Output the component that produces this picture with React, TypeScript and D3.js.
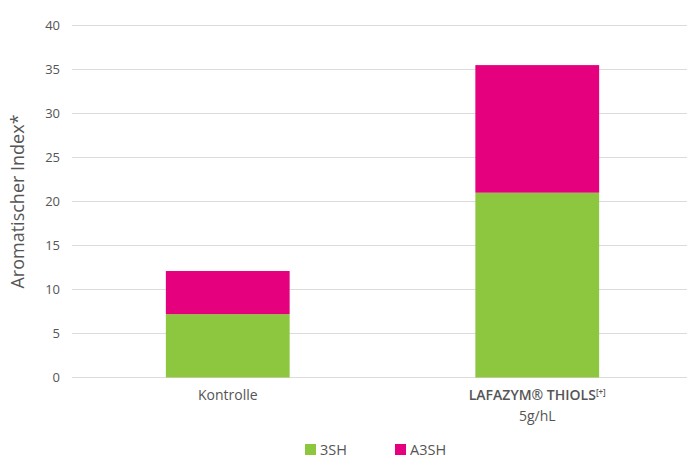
import * as d3 from 'd3';

const categories = ['Kontrolle', 'LAFAZYM® THIOLS'];
const series = ['3SH', 'A3SH'];
const values3SH = [7.2, 21.0];
const valuesA3SH = [4.9, 14.5];
const yTicks = [0, 5, 10, 15, 20, 25, 30, 35, 40];

const colors = ['#8DC63F', '#E5007D'];
const width = 687;
const height = 458;
const font = "'Open Sans', 'Noto Sans', sans-serif";

export default function App() {
  const x = d3
    .scaleBand<string>()
    .domain(categories)
    .range([73, 692])
    .paddingInner(0.6)
    .paddingOuter(0.3);

  const y = d3.scaleLinear().domain([0, 40]).range([377.5, 25.5]);

  const rows = categories.map((c, i) => ({
    category: c,
    '3SH': values3SH[i],
    A3SH: valuesA3SH[i],
  }));
  const stacked = d3.stack<any>().keys(series)(rows);

  return (
    <svg
      width={width}
      height={height}
      style={{ display: 'block', position: 'absolute', left: 0, top: 0 }}
      fontFamily={font}
    >
      <rect width={width} height={height} fill="#fff" />
      {/* gridlines */}
      {yTicks.map((t) => (
        <g key={t}>
          <line x1={72} x2={687} y1={y(t)} y2={y(t)} stroke="#dcdcdc" strokeWidth={1} />
          <text x={60} y={y(t)} dy="0.35em" textAnchor="end" fontSize={13} fill="#555">
            {t}
          </text>
        </g>
      ))}

      {/* bars */}
      {stacked.map((layer, si) =>
        layer.map((d, i) => (
          <rect
            key={`${si}-${i}`}
            x={x(categories[i])}
            width={x.bandwidth()}
            y={y(d[1])}
            height={y(d[0]) - y(d[1])}
            fill={colors[si]}
          />
        ))
      )}

      {/* y axis title */}
      <text
        transform={`translate(24, ${(y(0) + y(40)) / 2}) rotate(-90)`}
        textAnchor="middle"
        fontSize={18}
        fill="#555"
      >
        Aromatischer Index*
      </text>

      {/* category labels */}
      <text
        x={(x(categories[0]) ?? 0) + x.bandwidth() / 2}
        y={400}
        textAnchor="middle"
        fontSize={14}
        fill="#555"
      >
        {categories[0]}
      </text>
      <text
        x={(x(categories[1]) ?? 0) + x.bandwidth() / 2}
        y={400}
        textAnchor="middle"
        fontSize={14}
        fontWeight={600}
        fill="#555"
      >
        {categories[1]}
        <tspan fontSize={8} dy={-5} fontWeight={600}>[+]</tspan>
      </text>
      <text
        x={(x(categories[1]) ?? 0) + x.bandwidth() / 2}
        y={421}
        textAnchor="middle"
        fontSize={14}
        fill="#555"
      >
        5g/hL
      </text>

      {/* legend */}
      {series.map((s, i) => (
        <g key={s} transform={`translate(${305 + i * 90}, 444)`}>
          <rect x={0} y={0} width={11} height={11} fill={colors[i]} />
          <text x={15} y={6} dy="0.36em" fontSize={14.5} fill="#555">
            {s}
          </text>
        </g>
      ))}
    </svg>
  );
}
